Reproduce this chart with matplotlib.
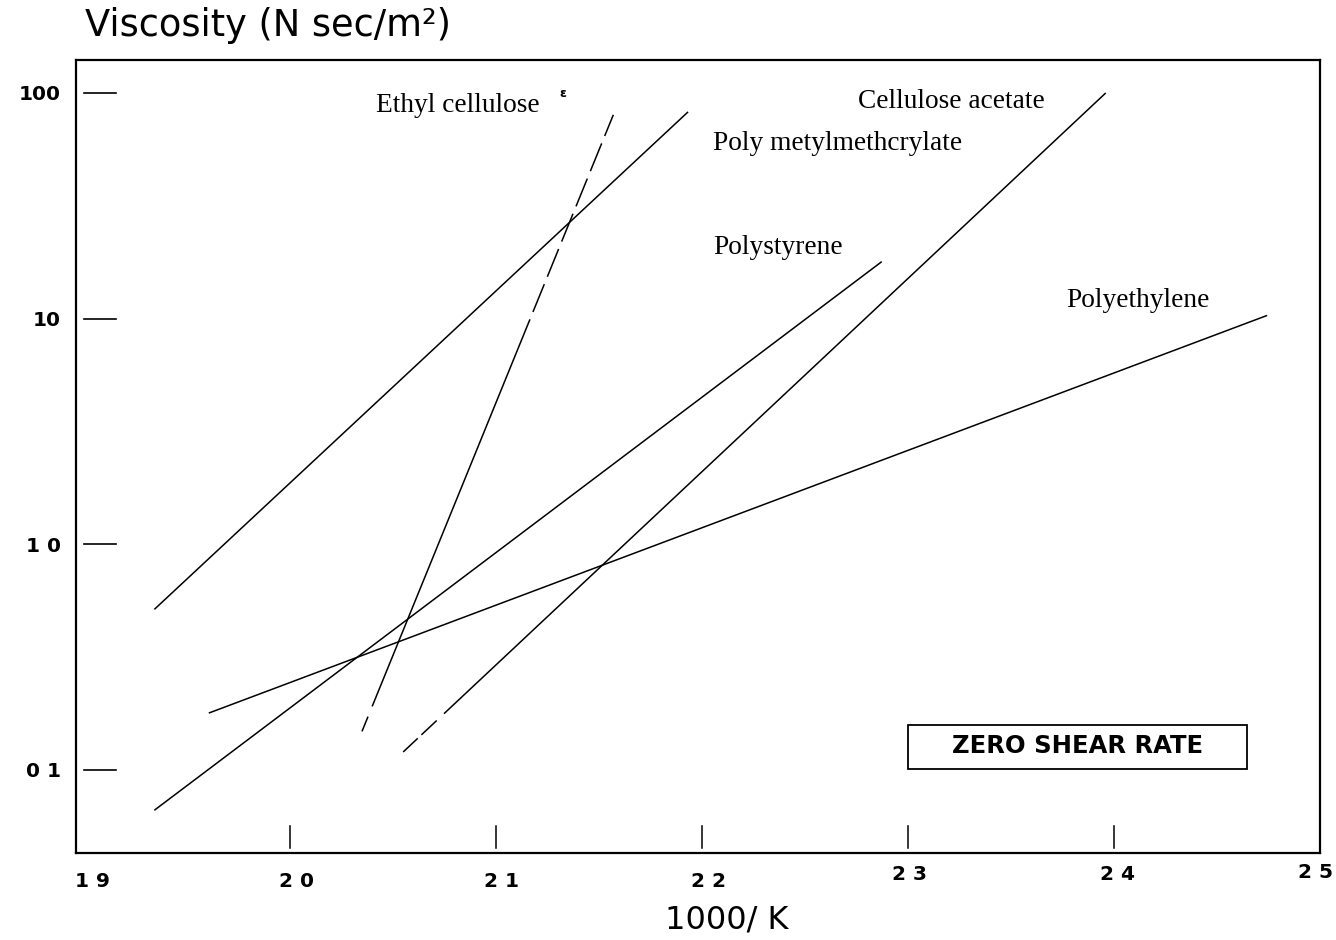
import matplotlib
matplotlib.use('Agg')
from matplotlib import pyplot as plt, patches, transforms
import numpy as np

plt.rcParams['lines.scale_dashes'] = False

# end points: 1000/K and viscosity (N sec/m2)
ethyl_x = [2.035, 2.157]
ethyl_y = [0.148, 80.0]
pmma_x = [1.9345, 2.193]
pmma_y = [0.517, 82.0]
acetate_x = [2.055, 2.396]
acetate_y = [0.120, 100.0]
styrene_x = [1.9345, 2.287]
styrene_y = [0.0665, 17.8]
ethylene_x = [1.961, 2.474]
ethylene_y = [0.179, 10.3]

xticks = [1.9, 2.0, 2.1, 2.2, 2.3, 2.4, 2.5]
xtick_labels = ['1 9', '2 0', '2 1', '2 2', '2 3', '2 4', '2 5']
yticks = [100, 10, 1, 0.1]
ytick_labels = ['100', '10', '1 0', '0 1']

sans = 'DejaVu Sans'
serif = 'Liberation Serif'
px = 0.72  # points per pixel at 100 dpi

fig = plt.figure(figsize=(13.36, 9.4), dpi=100)
ax = fig.add_axes([76/1336, 1-853/940, (1320-76)/1336, (853-60)/940])
ax.set_yscale('log')
ax.set_xlim(1.8962, 2.4994)
ax.set_ylim(0.0428, 140)

lw = 1.1
ec_dash = [16, 11, 418] + [8, 30]*6 + [40]
ax.plot(ethyl_x, ethyl_y, color='black', lw=lw, dashes=[d*px for d in ec_dash])
ax.plot(pmma_x, pmma_y, color='black', lw=lw)
ca_dash = [20, 5, 21, 10, 3000, 1]
ax.plot(acetate_x, acetate_y, color='black', lw=lw, dashes=[d*px for d in ca_dash])
ax.plot(styrene_x, styrene_y, color='black', lw=lw)
ax.plot(ethylene_x, ethylene_y, color='black', lw=lw)

for s in ax.spines.values():
    s.set_linewidth(1.6)

# tick marks are drawn by hand: y ticks float just inside the frame
ax.tick_params(length=0)
for v in yticks:
    ax.plot([0.0065, 0.032], [v, v], color='black', lw=1.2,
            transform=ax.get_yaxis_transform(), clip_on=False)
for v in xticks[1:-1]:
    ax.plot([v, v], [0.006, 0.034], color='black', lw=1.1,
            transform=ax.get_xaxis_transform(), clip_on=False)

ax.set_xticks(xticks)
ax.set_xticklabels(xtick_labels, fontfamily=sans, fontweight='bold', fontsize=14.5)
ax.tick_params(axis='x', pad=14)
ax.set_yticks(yticks)
ax.set_yticklabels(ytick_labels, fontfamily=sans, fontweight='bold', fontsize=14.5)
ax.tick_params(axis='y', pad=11)
ax.minorticks_off()

# the scanned labels sit a little off their ticks
shifts = [(9, 0), (7, 0), (6, 0), (7, 0), (2, 7), (4, 7), (-5, 9)]
for t, (dx, dy) in zip(ax.get_xticklabels(), shifts):
    t.set_transform(t.get_transform() + transforms.ScaledTranslation(dx/100, dy/100, fig.dpi_scale_trans))

fig.text(85/1336, 1-26/940, 'Viscosity (N sec/m\u00b2)', fontfamily=sans,
         fontsize=26.5, ha='left', va='center')
fig.text(727/1336, 1-920/940, '1000/ K', fontfamily=sans, fontsize=23,
         ha='center', va='center')

lab = dict(fontfamily=serif, fontsize=19.7, transform=ax.transAxes, va='center', ha='left')
ax.text(0.241, 0.942, 'Ethyl cellulose', **lab)
ax.text(0.391, 0.958, '\u03b5', fontfamily=sans, fontsize=9, fontweight='bold',
        transform=ax.transAxes, ha='center', va='center')
ax.text(0.629, 0.948, 'Cellulose acetate', **lab)
ax.text(0.512, 0.895, 'Poly metylmethcrylate', **lab)
ax.text(0.512, 0.763, 'Polystyrene', **lab)
ax.text(0.796, 0.697, 'Polyethylene', **lab)

box = patches.Rectangle((0.669, 0.106), 0.272, 0.055, transform=ax.transAxes,
                        fill=False, edgecolor='black', lw=1.3)
ax.add_patch(box)
ax.text(0.8055, 0.135, 'ZERO SHEAR RATE', fontfamily=sans, fontweight='bold',
        fontsize=17.5, transform=ax.transAxes, ha='center', va='center')

fig.savefig('out.png', dpi=100)
